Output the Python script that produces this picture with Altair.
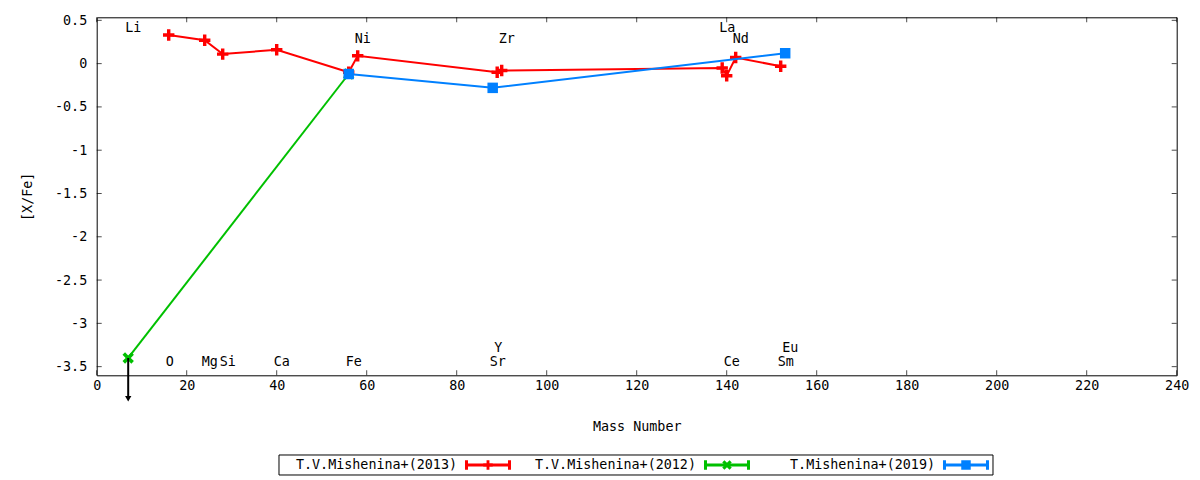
import altair as alt
import pandas as pd

# ---------------- data ----------------
mass_2013 = [16, 24, 28, 40, 56, 58, 89, 90, 139, 140, 142, 152]
xfe_2013 = [0.33, 0.27, 0.11, 0.16, -0.10, 0.09, -0.10, -0.08, -0.05, -0.14, 0.07, -0.03]

mass_2012 = [7, 56]
xfe_2012 = [-3.40, -0.12]

mass_2019 = [56, 88, 153]
xfe_2019 = [-0.12, -0.28, 0.12]

# upper-limit arrow (Li, 2012)
limit_mass = [7]
limit_from = [-3.40]
limit_to = [-3.84]
limit_head = [-3.87]

label_text = ["Li", "Ni", "Zr", "La", "Nd", "O", "Mg", "Si", "Ca", "Fe", "Sr", "Y", "Ce", "Sm", "Eu"]
label_mass = [7, 58, 90, 139, 142, 16, 24, 28, 40, 56, 88, 89, 140, 152, 153]
label_y = [0.41, 0.29, 0.29, 0.41, 0.29, -3.45, -3.45, -3.45, -3.45, -3.45, -3.45, -3.29, -3.45, -3.45, -3.29]

series_names = ["T.V.Mishenina+(2013)", "T.V.Mishenina+(2012)", "T.Mishenina+(2019)"]
series_colors = ["#ff0000", "#00c000", "#0080ff"]

x_ticks = [0, 20, 40, 60, 80, 100, 120, 140, 160, 180, 200, 220, 240]
y_ticks = [0.5, 0, -0.5, -1, -1.5, -2, -2.5, -3, -3.5]

# ---------------- styles ----------------
FONT = "DejaVu Sans Mono"
FS = 13.4
W, H = 1080, 358
PLUS = "M-0.3,-1H0.3V-0.3H1V0.3H0.3V1H-0.3V0.3H-1V-0.3H-0.3Z"
XMARK = "M-1,-0.55L-0.55,-1L0,-0.45L0.55,-1L1,-0.55L0.45,0L1,0.55L0.55,1L0,0.45L-0.55,1L-1,0.55L-0.45,0Z"
ERRBAR = "M-1,0H1M-1,-0.22V0.22M1,-0.22V0.22"
series_shapes = [PLUS, XMARK, "square"]

df13 = pd.DataFrame({"mass": mass_2013, "xfe": xfe_2013})
df12 = pd.DataFrame({"mass": mass_2012, "xfe": xfe_2012})
df19 = pd.DataFrame({"mass": mass_2019, "xfe": xfe_2019})
dflim = pd.DataFrame({"mass": limit_mass, "y0": limit_from, "y1": limit_to, "yh": limit_head})
dflab = pd.DataFrame({"label": label_text, "mass": label_mass, "y": label_y})
dfxt = pd.DataFrame({"mass": x_ticks})
dfyt = pd.DataFrame({"xfe": y_ticks})
dfleg = pd.DataFrame({"name": series_names, "idx": [0, 1, 2]})

xscale = alt.Scale(domain=[0, 240], nice=False, zero=False)
yscale = alt.Scale(domain=[-3.6, 0.535], nice=False, zero=False)

xax = alt.Axis(values=x_ticks, ticks=False, grid=False, domain=False, title="Mass Number",
               labelFont=FONT, labelFontSize=FS, labelColor="black", labelPadding=14,
               labelBaseline="alphabetic", labelFlush=False,
               titleFont=FONT, titleFontSize=FS, titleFontWeight="normal", titleColor="black",
               titleBaseline="alphabetic", titleY=55.7, labelOverlap=False)
yax = alt.Axis(values=y_ticks, ticks=False, grid=False, domain=False, title="[X/Fe]",
               labelFont=FONT, labelFontSize=FS, labelColor="black", labelPadding=10,
               labelExpr="datum.value + ''", labelFlush=False, labelOverlap=False,
               titleFont=FONT, titleFontSize=FS, titleFontWeight="normal", titleColor="black",
               titlePadding=20)

X = alt.X("mass:Q", scale=xscale, axis=xax)
Y = alt.Y("xfe:Q", scale=yscale, axis=yax)

def series(df, color, shape, size):
    line = alt.Chart(df).mark_line(color=color, strokeWidth=2).encode(x=X, y=Y)
    pts = alt.Chart(df).mark_point(shape=shape, filled=True, color=color, size=size,
                                   opacity=1).encode(x=X, y=Y)
    return [line, pts]

layers = []
layers += series(df12, series_colors[1], XMARK, 130)
layers += series(df13, series_colors[0], PLUS, 130)
layers += series(df19, series_colors[2], "square", 110)

arrow = alt.Chart(dflim).mark_rule(color="black", strokeWidth=2, clip=False).encode(
    x="mass:Q", y="y0:Q", y2="y1:Q")
head = alt.Chart(dflim).mark_point(shape="triangle-down", filled=True, color="black",
                                   size=40, opacity=1, clip=False).encode(
    x="mass:Q", y=alt.Y("yh:Q"))

labels = alt.Chart(dflab).mark_text(align="left", baseline="middle", dx=-3, font=FONT,
                                    fontSize=FS, color="black").encode(
    x="mass:Q", y=alt.Y("y:Q"), text="label:N")

# inward ticks (gnuplot style, mirrored)
tick_l = alt.Chart(dfyt).mark_tick(color="black", size=5, thickness=1).encode(
    y="xfe:Q", x=alt.value(2.5))
tick_r = alt.Chart(dfyt).mark_tick(color="black", size=5, thickness=1).encode(
    y="xfe:Q", x=alt.value(W - 2.5))
tick_b = alt.Chart(dfxt).mark_tick(color="black", size=5, thickness=1).encode(
    x="mass:Q", y=alt.value(H - 2.5))
tick_t = alt.Chart(dfxt).mark_tick(color="black", size=5, thickness=1).encode(
    x="mass:Q", y=alt.value(2.5))

main = alt.layer(tick_l, tick_r, tick_b, tick_t, *layers, arrow, head, labels)

# ---------------- legend (below plot) ----------------
LEG_Y = 447.7
lx = alt.X("idx:O", scale=alt.Scale(type="point", range=[360.3, 838.3], padding=0), axis=None)
lcolor = alt.Color("name:N", scale=alt.Scale(domain=series_names, range=series_colors), legend=None)
lshape = alt.Shape("name:N", scale=alt.Scale(domain=series_names, range=series_shapes), legend=None)

leg_box = alt.Chart(pd.DataFrame({"k": [0]})).mark_rect(
    fill=None, stroke="black", strokeWidth=1, clip=False).encode(
    x=alt.value(182.3), x2=alt.value(896.3), y=alt.value(437.7), y2=alt.value(457.7))
leg_text = alt.Chart(dfleg).mark_text(align="right", baseline="middle", font=FONT,
                                      fontSize=FS, color="black", clip=False).encode(
    x=lx, y=alt.value(LEG_Y), text="name:N")
leg_bar = alt.Chart(dfleg).mark_point(shape=ERRBAR, filled=False, strokeWidth=3, size=1849,
                                      opacity=1, xOffset=31, clip=False).encode(
    x=lx, y=alt.value(LEG_Y), color=lcolor)
leg_mark = alt.Chart(dfleg).mark_point(filled=True, size=90, opacity=1, xOffset=31,
                                       clip=False).encode(
    x=lx, y=alt.value(LEG_Y), color=lcolor, shape=lshape)

legend = alt.layer(leg_box, leg_text, leg_bar, leg_mark)

chart = alt.layer(main, legend).resolve_scale(
    x="independent", y="independent", color="independent", shape="independent"
).properties(
    width=W, height=H,
    autosize=alt.AutoSizeParams(type="none"),
    padding={"left": 88.7, "top": 9.3, "right": 14.5, "bottom": 101},
    background="white",
).configure_view(stroke="black", strokeWidth=1)

chart.save("out.html", embed_options={"renderer": "svg", "actions": False})
